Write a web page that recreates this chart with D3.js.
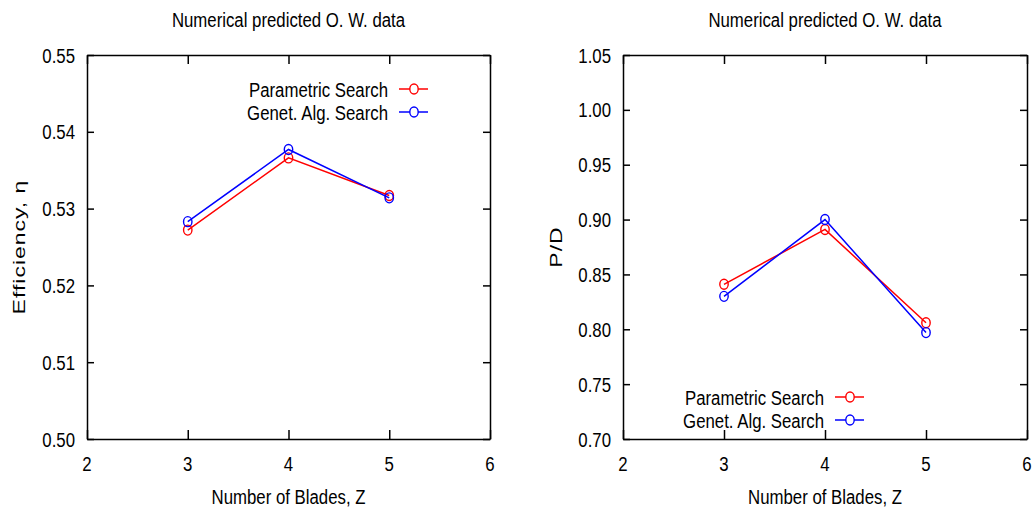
<!DOCTYPE html>
<html>
<head>
<meta charset="utf-8">
<script src="https://cdn.jsdelivr.net/npm/d3@7"></script>
<style>
  body { margin: 0; background: #fff; }
  text { font-family: "Liberation Sans", Arial, sans-serif; fill: #000; }
</style>
</head>
<body>
<div id="chart"></div>
<script>
// data
const blades = [3, 4, 5];
const xTicks = [2, 3, 4, 5, 6];
const paramEff = [0.5272, 0.5366, 0.5317];
const genetEff = [0.5283, 0.5377, 0.5314];
const effTicks = [0.50, 0.51, 0.52, 0.53, 0.54, 0.55];
const paramPD = [0.841, 0.891, 0.806];
const genetPD = [0.830, 0.900, 0.797];
const pdTicks = [0.70, 0.75, 0.80, 0.85, 0.90, 0.95, 1.00, 1.05];
const seriesNames = ["Parametric Search", "Genet. Alg. Search"];
const colors = ["#ff0000", "#0000ff"];

const SX = 0.8; // the picture is squeezed horizontally
const W = 1034, H = 512;

const svg = d3.select("#chart").append("svg")
  .attr("width", W).attr("height", H);

function label(g, x, y, txt, anchor, size) {
  return g.append("text")
    .attr("transform", `translate(${x},${y}) scale(${SX},1)`)
    .attr("text-anchor", anchor)
    .style("font-size", size + "px")
    .text(txt);
}

function panel(opt) {
  const w = opt.right - opt.left, h = 439 - 55;
  const g = svg.append("g").attr("transform", `translate(${opt.left},55)`);

  const x = d3.scaleLinear().domain([2, 6]).range([0, w]);
  const y = d3.scaleLinear().domain(opt.ydomain).range([h, 0]);

  // frame + inward ticks on every side
  const axes = [
    [d3.axisBottom(x).tickValues(xTicks).tickSizeInner(-9), `translate(0,${h})`],
    [d3.axisTop(x).tickValues(xTicks).tickSizeInner(-9), null],
    [d3.axisLeft(y).tickValues(opt.yticks).tickSizeInner(-7), null],
    [d3.axisRight(y).tickValues(opt.yticks).tickSizeInner(-7), `translate(${w},0)`]
  ];
  axes.forEach(([ax, tr]) => {
    const a = g.append("g").call(ax.tickSizeOuter(0).tickFormat(""));
    if (tr) a.attr("transform", tr);
    a.selectAll("path,line").attr("stroke", "#000").attr("stroke-width", 1.5);
  });

  xTicks.forEach(t => label(g, x(t), h + 32, t, "middle", 21));
  opt.yticks.forEach(t => label(g, -12, y(t) + 7.5, d3.format(".2f")(t), "end", 21));

  label(g, w / 2, -28, "Numerical predicted O. W. data", "middle", 21);
  label(g, w / 2, h + 65, "Number of Blades, Z", "middle", 21);

  g.append("text")
    .attr("transform", `translate(${opt.ylabX},${h / 2}) scale(0.72,1) rotate(-90)`)
    .attr("text-anchor", "middle")
    .style("font-size", opt.ylabSize + "px")
    .style("letter-spacing", "1px")
    .text(opt.ylabel);

  const line = d3.line().x((d, i) => x(blades[i])).y(d => y(d));
  opt.series.forEach((s, k) => {
    g.append("path").datum(s)
      .attr("fill", "none").attr("stroke", colors[k]).attr("stroke-width", 1.5)
      .attr("d", line);
    g.selectAll(null).data(s).enter().append("ellipse")
      .attr("cx", (d, i) => x(blades[i])).attr("cy", d => y(d))
      .attr("rx", 4.2).attr("ry", 5)
      .attr("fill", "none").attr("stroke", colors[k]).attr("stroke-width", 1.4);
  });

  // legend
  seriesNames.forEach((n, k) => {
    const ly = opt.legY + k * 23;
    label(g, opt.legX, ly + 7.5, n, "end", 21);
    g.append("line")
      .attr("x1", opt.legX + 11).attr("x2", opt.legX + 40)
      .attr("y1", ly).attr("y2", ly)
      .attr("stroke", colors[k]).attr("stroke-width", 1.5);
    g.append("ellipse")
      .attr("cx", opt.legX + 26).attr("cy", ly)
      .attr("rx", 4.2).attr("ry", 5)
      .attr("fill", "#fff").attr("stroke", colors[k]).attr("stroke-width", 1.4);
  });
}

panel({
  left: 87, right: 490, ydomain: [0.50, 0.55], yticks: effTicks,
  series: [paramEff, genetEff], ylabel: "Efficiency, η", ylabX: -62, ylabSize: 23,
  legX: 301, legY: 34
});

panel({
  left: 623, right: 1027, ydomain: [0.70, 1.05], yticks: pdTicks,
  series: [paramPD, genetPD], ylabel: "P/D", ylabX: -61, ylabSize: 23,
  legX: 201, legY: 342
});
</script>
</body>
</html>
